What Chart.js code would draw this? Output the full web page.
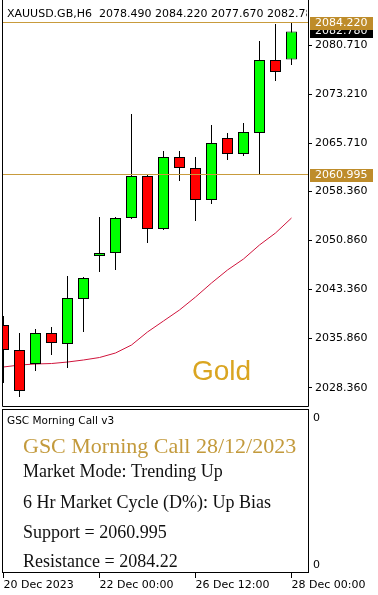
<!DOCTYPE html>
<html><head><meta charset="utf-8">
<script src="https://cdn.jsdelivr.net/npm/chart.js@4.4.1/dist/chart.umd.min.js"></script>
<style>
html,body{margin:0;padding:0;background:#fff;width:378px;height:595px;overflow:hidden}
canvas{position:absolute;left:0}
#main{top:0}
#sub{top:409px}
</style></head><body>
<canvas id="main" width="378" height="408" style="width:378px;height:408px"></canvas>
<canvas id="sub" width="378" height="186" style="width:378px;height:186px"></canvas>
<script>
// ---- data (H6 candles, XAUUSD) ----
const categories = ["20 Dec 12:00","20 Dec 18:00","21 Dec 00:00","21 Dec 06:00","21 Dec 12:00","21 Dec 18:00","22 Dec 00:00","22 Dec 06:00","22 Dec 12:00","22 Dec 18:00","26 Dec 00:00","26 Dec 06:00","26 Dec 12:00","26 Dec 18:00","27 Dec 00:00","27 Dec 06:00","27 Dec 12:00","27 Dec 18:00","28 Dec 00:00"];
const openValues  = [2037.94,2034.12,2031.98,2036.71,2035.03,2041.91,2048.48,2048.93,2054.28,2060.70,2052.60,2063.60,2061.92,2057.03,2066.50,2064.06,2067.27,2078.42,2078.49];
const highValues  = [2039.31,2036.71,2037.32,2037.63,2045.42,2045.27,2054.43,2054.43,2070.17,2060.85,2064.52,2064.52,2063.60,2068.49,2067.27,2068.79,2081.32,2083.92,2084.22];
const lowValues   = [2029.07,2026.94,2030.91,2033.35,2031.37,2036.87,2046.03,2046.34,2054.13,2050.46,2052.45,2059.93,2053.82,2056.42,2063.14,2063.75,2060.995,2075.21,2077.67];
const closeValues = [2034.12,2027.85,2036.71,2035.19,2042.06,2045.12,2048.93,2054.28,2060.70,2052.60,2063.60,2061.92,2057.03,2065.74,2064.06,2067.42,2078.42,2076.59,2082.78];
const maValues    = [2031.52,2031.82,2031.98,2032.05,2032.28,2032.59,2032.97,2033.66,2034.88,2036.87,2038.55,2040.23,2042.21,2044.35,2046.34,2048.02,2050.16,2051.99,2054.28];
const yTickValues = [2080.71,2073.21,2065.71,2058.36,2050.86,2043.36,2035.86,2028.36];
const xTickIndex  = [0,6,12,18];
const xTickLabels = ["20 Dec 2023","22 Dec 00:00","26 Dec 12:00","28 Dec 00:00"];
const levelValues = [2084.22, 2060.995];   // resistance, support
const lastClose = 2082.78;
const headerText = "XAUUSD.GB,H6  2078.490 2084.220 2077.670 2082.780";
const panelLines = ["Market Mode: Trending Up","6 Hr Market Cycle (D%): Up Bias","Support = 2060.995","Resistance = 2084.22"];
const panelTitle = "GSC Morning Call 28/12/2023";

const X_MIN = -0.09375, X_MAX = 19.03125;
const Y_MIN = 2025.409, Y_MAX = 2087.585;
const AX = '"DejaVu Sans", sans-serif';

const idx = categories.map((c,i)=>i);
const wickData = idx.map(i=>({x:i, y:[lowValues[i], highValues[i]]}));
const bodyData = idx.map(i=>({x:i, y:[openValues[i], closeValues[i]]}));
const bodyColors = idx.map(i=> closeValues[i] >= openValues[i] ? '#00FF00' : '#FF0000');
const maData = idx.map(i=>({x:i, y:maValues[i]}));

const mainDecor = {
  id:'mainDecor',
  afterDatasetsDraw(chart){
    const {ctx, chartArea:a, scales:{y}} = chart;
    ctx.save();
    ctx.strokeStyle = '#C89B3C'; ctx.lineWidth = 1;
    levelValues.forEach(v=>{
      const py = Math.round(y.getPixelForValue(v)) + 0.5;
      ctx.beginPath(); ctx.moveTo(a.left, py); ctx.lineTo(a.right, py); ctx.stroke();
    });
    ctx.restore();
  },
  afterDraw(chart){
    const {ctx, chartArea:a, scales:{y}} = chart;
    ctx.save();
    ctx.strokeStyle = '#000'; ctx.lineWidth = 1;
    ctx.beginPath();
    ctx.moveTo(a.left+0.5, 0); ctx.lineTo(a.left+0.5, a.bottom-0.5);
    ctx.lineTo(a.right+0.5, a.bottom-0.5); ctx.lineTo(a.right+0.5, 0);
    ctx.stroke();
    // header
    ctx.save();
    ctx.beginPath(); ctx.rect(a.left+1, 0, a.right-a.left-2, 30); ctx.clip();
    ctx.font = '11px ' + AX; ctx.fillStyle = '#000'; ctx.textBaseline = 'alphabetic';
    ctx.fillText(headerText, 7, 17);
    ctx.restore();
    // Gold
    ctx.font = '28px "Liberation Sans", Arial, sans-serif';
    ctx.fillStyle = '#DAA520'; ctx.textBaseline = 'alphabetic';
    ctx.fillText('Gold', 192, 380);
    // price boxes
    ctx.font = '11px ' + AX; ctx.textBaseline = 'middle';
    const boxX = a.right + 2, boxW = 63;
    let py = Math.round(y.getPixelForValue(lastClose));
    ctx.fillStyle = '#000'; ctx.fillRect(boxX, py-6, boxW, 13);
    ctx.fillStyle = '#fff'; ctx.fillText(lastClose.toFixed(3), a.right+7, py+0.5);
    levelValues.forEach(v=>{
      const p = Math.round(y.getPixelForValue(v));
      ctx.fillStyle = '#BE8C2A'; ctx.fillRect(boxX, p-5, boxW, 13);
      ctx.fillStyle = '#fff'; ctx.fillText(v.toFixed(3), a.right+7, p+1.5);
    });
    ctx.restore();
  }
};

new Chart(document.getElementById('main'), {
  type:'bar',
  data:{ datasets:[
    { type:'bar', data: bodyData, backgroundColor: bodyColors, borderColor:'#000', borderWidth:1,
      borderSkipped:false, inflateAmount:0, barThickness:11, grouped:false, order:0 },
    { type:'bar', data: wickData, backgroundColor:'#000', borderWidth:0, inflateAmount:0,
      barThickness:1, grouped:false, order:1 },
    { type:'line', data: maData, borderColor:'#D0143C', borderWidth:1, pointRadius:0,
      tension:0, fill:false, order:2 }
  ]},
  options:{
    responsive:false, animation:false, devicePixelRatio:1,
    layout:{ padding:{ left:2, top:0, right:0, bottom:1 } },
    plugins:{ legend:{display:false}, tooltip:{enabled:false} },
    scales:{
      x:{ type:'linear', display:false, min:X_MIN, max:X_MAX, offset:false },
      y:{ type:'linear', position:'right', min:Y_MIN, max:Y_MAX,
          afterBuildTicks(s){ s.ticks = yTickValues.map(v=>({value:v})); },
          afterFit(s){ s.width = 70; s.paddingTop = 0; s.paddingBottom = 0; },
          border:{display:false},
          grid:{ drawOnChartArea:false, drawTicks:true, tickLength:4, color:'#000' },
          ticks:{ padding:3, color:'#000', autoSkip:false, font:{family:'DejaVu Sans', size:11},
                  callback:(v)=>Number(v).toFixed(3) } }
    }
  },
  plugins:[mainDecor]
});

const subDecor = {
  id:'subDecor',
  afterDraw(chart){
    const {ctx, chartArea:a} = chart;
    ctx.save();
    ctx.strokeStyle = '#000'; ctx.lineWidth = 1;
    ctx.strokeRect(a.left+0.5, 0.5, a.right-a.left, a.bottom-1);
    ctx.fillStyle = '#000'; ctx.textBaseline = 'alphabetic';
    ctx.font = '10.5px ' + AX;
    ctx.fillText('GSC Morning Call v3', 7, 15);
    ctx.font = '22px "Liberation Serif", serif';
    ctx.fillStyle = '#C39A3C';
    ctx.fillText(panelTitle, 23, 43.7);
    ctx.font = '18px "Liberation Serif", serif';
    ctx.fillStyle = '#111';
    const base = [68.3, 98.5, 128.7, 158.3];
    panelLines.forEach((t,i)=>ctx.fillText(t, 23, base[i]));
    ctx.restore();
  }
};

new Chart(document.getElementById('sub'), {
  type:'line',
  data:{ datasets:[ { data:[], pointRadius:0 } ] },
  options:{
    responsive:false, animation:false, devicePixelRatio:1,
    layout:{ padding:{ left:2, top:0, right:0, bottom:0 } },
    plugins:{ legend:{display:false}, tooltip:{enabled:false} },
    scales:{
      x:{ type:'linear', min:X_MIN, max:X_MAX, offset:false,
          afterBuildTicks(s){ s.ticks = xTickIndex.map(v=>({value:v})); },
          afterFit(s){ s.height = 22; s.paddingLeft = 0; s.paddingRight = 0; },
          border:{display:false},
          grid:{ drawOnChartArea:false, drawTicks:true, tickLength:5, color:'#000' },
          ticks:{ align:'start', padding:1, maxRotation:0, minRotation:0, autoSkip:false, color:'#000',
                  font:{family:'DejaVu Sans', size:11},
                  callback:(v)=>{ const k = xTickIndex.indexOf(v); return k>=0 ? xTickLabels[k] : ''; } } },
      y:{ type:'linear', position:'right', min:0, max:164,
          afterBuildTicks(s){ s.ticks = [{value:155},{value:8}]; },
          afterFit(s){ s.width = 70; s.paddingTop = 0; s.paddingBottom = 0; },
          border:{display:false},
          grid:{ drawOnChartArea:false, drawTicks:false },
          ticks:{ padding:5, color:'#000', autoSkip:false, font:{family:'DejaVu Sans', size:11},
                  callback:()=> '0' } }
    }
  },
  plugins:[subDecor]
});
</script>
</body></html>
